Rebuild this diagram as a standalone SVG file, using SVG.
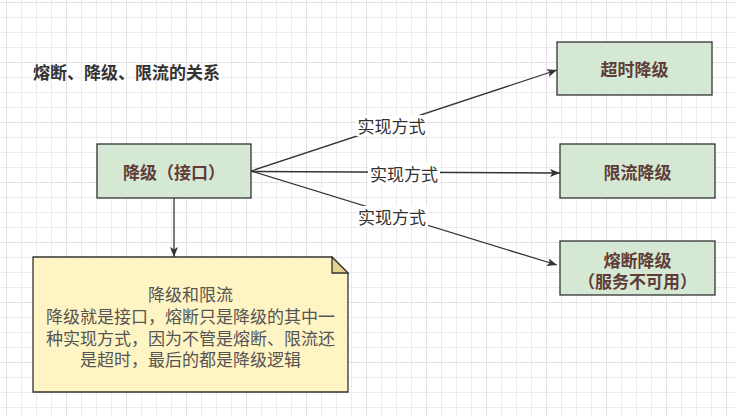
<svg xmlns="http://www.w3.org/2000/svg" width="735" height="416" viewBox="0 0 735 416">
<defs>
<pattern id="minor" width="15" height="15" patternUnits="userSpaceOnUse" x="6" y="2">
<path d="M0.5 0V15M0 0.5H15" stroke="#ececec" stroke-width="1" fill="none"/>
</pattern>
<pattern id="major" width="60" height="60" patternUnits="userSpaceOnUse" x="6" y="2">
<path d="M0.5 0V60M0 0.5H60" stroke="#e2e2e2" stroke-width="1" fill="none"/>
</pattern>
<marker id="arr" viewBox="0 0 10 8" refX="10" refY="4" markerWidth="10" markerHeight="8" markerUnits="userSpaceOnUse" orient="auto">
<path d="M0 0L10 4L0 8L2.5 4Z" fill="#333"/>
</marker>
<style>
.box{fill:#d5e8d4;stroke:#333;stroke-width:1.3}
.nt{font-family:"Noto Sans CJK SC","Microsoft YaHei",sans-serif;font-size:17px;font-weight:bold;fill:#5e3c37;text-anchor:middle;dominant-baseline:central}
.lbl{font-family:"Noto Sans CJK SC",sans-serif;font-size:17px;fill:#333;text-anchor:middle;dominant-baseline:central}
.edge{stroke:#333;stroke-width:1.3;fill:none;marker-end:url(#arr)}
.note{font-family:"Noto Sans CJK SC",sans-serif;font-size:17px;fill:#555;text-anchor:middle;dominant-baseline:central}
</style>
</defs>
<rect width="735" height="416" fill="#fff"/>
<rect width="735" height="416" fill="url(#minor)"/>
<rect width="735" height="416" fill="url(#major)"/>

<g id="title">
<text x="33" y="71" font-family="Noto Sans CJK SC, sans-serif" font-size="17" font-weight="bold" fill="#333" dominant-baseline="central">熔断、降级、限流的关系</text>
</g>

<g id="connectors">
<path class="edge" d="M251 171L557 70"/>
<path class="edge" d="M251 171.5L560 173"/>
<path class="edge" d="M251 171L557 265"/>
<path class="edge" d="M174 198V257"/>
<rect x="356" y="115" width="71" height="21" fill="#fff"/>
<text class="lbl" x="391.5" y="125.5">实现方式</text>
<rect x="368" y="162" width="72" height="22" fill="#fff"/>
<text class="lbl" x="404" y="173">实现方式</text>
<rect x="356" y="206" width="72" height="21" fill="#fff"/>
<text class="lbl" x="392" y="216.5">实现方式</text>
</g>

<g id="main">
<rect class="box" x="97" y="144" width="154" height="54"/>
<text class="nt" x="174" y="171">降级（接口）</text>
</g>

<g id="timeout">
<rect class="box" x="557" y="42" width="155" height="53"/>
<text class="nt" x="634.5" y="68.5">超时降级</text>
</g>

<g id="ratelimit">
<rect class="box" x="560" y="144" width="155" height="54"/>
<text class="nt" x="637.5" y="171">限流降级</text>
</g>

<g id="circuit">
<rect class="box" x="560" y="241" width="155" height="54"/>
<text class="nt" x="637.5" y="259.5">熔断降级</text>
<text class="nt" x="637.5" y="280">（服务不可用）</text>
</g>

<g id="note">
<path d="M33 257H332L348 273V392H33Z" fill="#fff4c3" stroke="#333" stroke-width="1.3"/>
<path d="M332 257V273H348Z" fill="#e4d28a" stroke="#333" stroke-width="1.3"/>
<text class="note" x="190.5" y="293.5">降级和限流</text>
<text class="note" x="190.5" y="315.5">降级就是接口，熔断只是降级的其中一</text>
<text class="note" x="190.5" y="337">种实现方式，因为不管是熔断、限流还</text>
<text class="note" x="190.5" y="358.5">是超时，最后的都是降级逻辑</text>
</g>
</svg>
